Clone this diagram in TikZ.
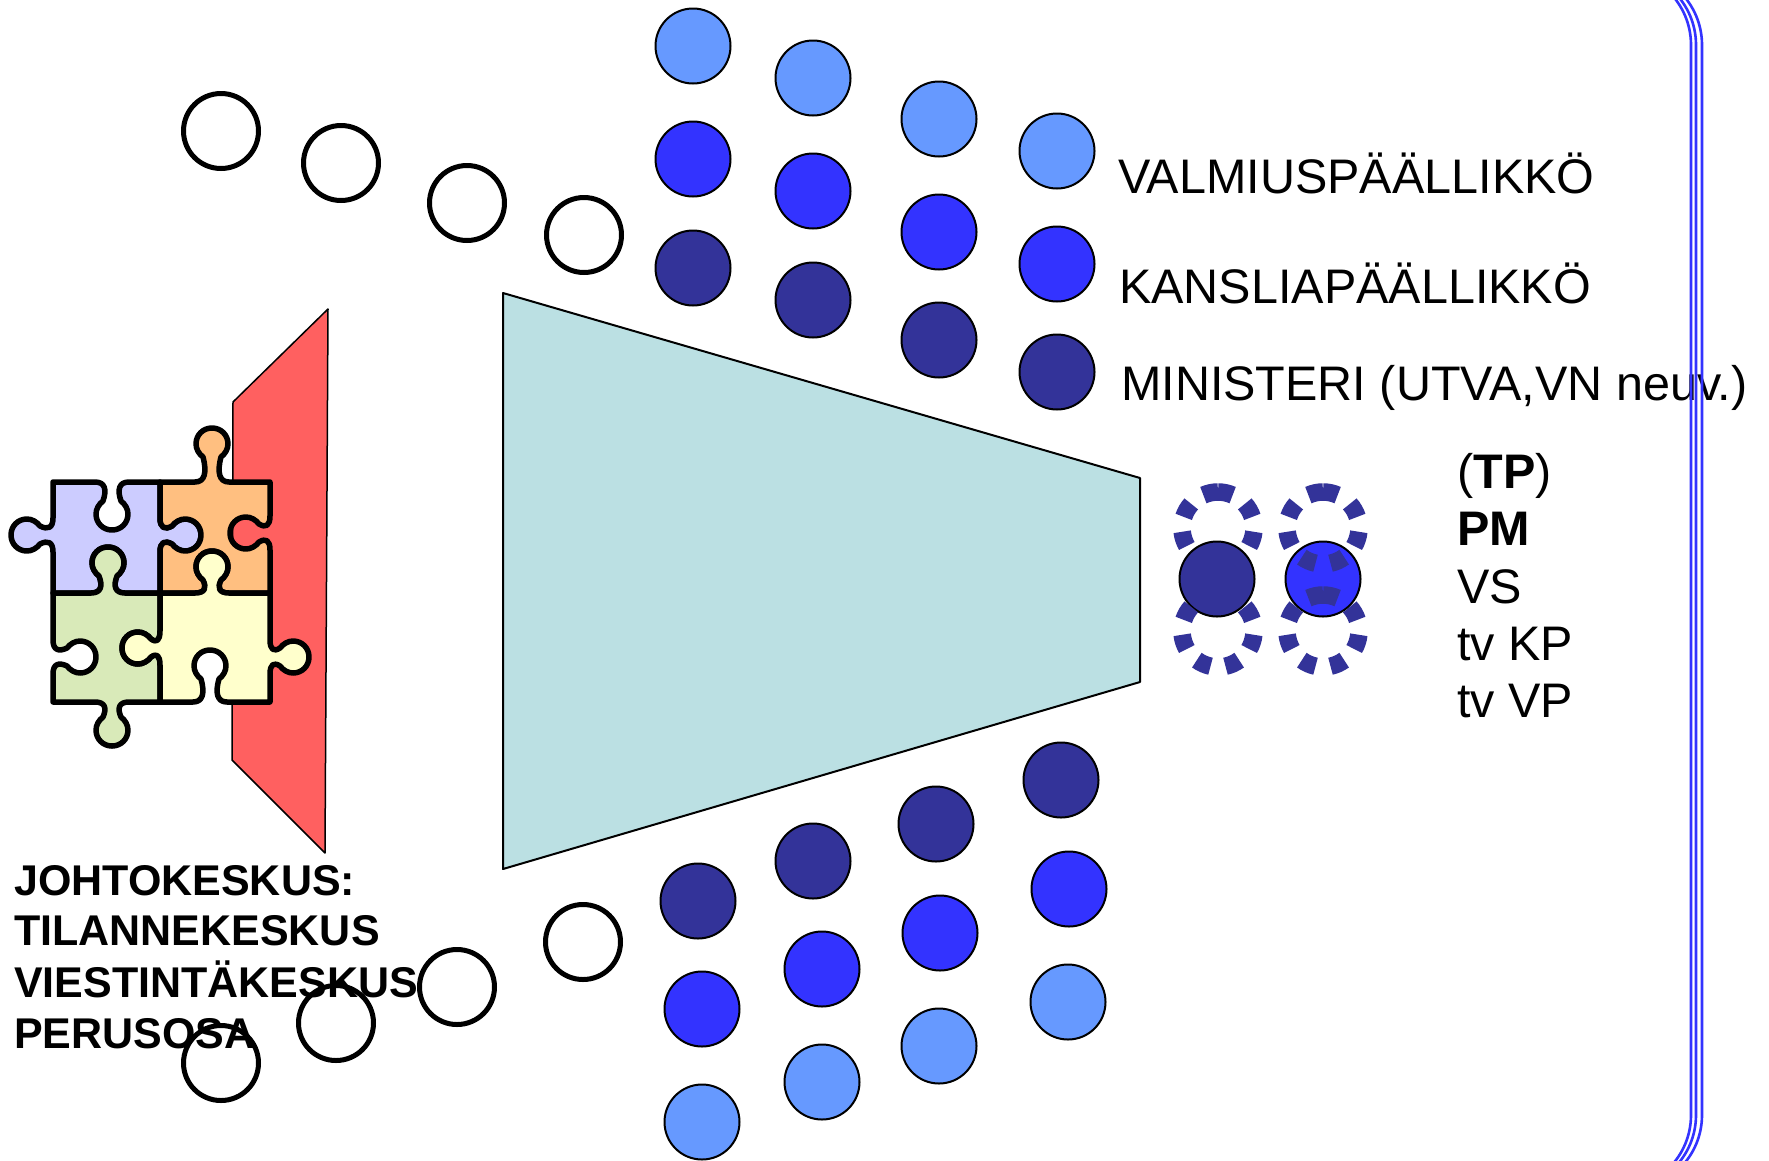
\documentclass[tikz,border=0pt]{standalone}
\usepackage{fontspec}
\setmainfont{Liberation Sans}
\definecolor{pzblue}{HTML}{CCCCFF}
\definecolor{pzorange}{HTML}{FFBF80}
\definecolor{pzgreen}{HTML}{D9EAB9}
\definecolor{pzyellow}{HTML}{FFFFCC}
\definecolor{wallred}{HTML}{FF6060}
\definecolor{funnel}{HTML}{BBE0E3}
\definecolor{cLight}{HTML}{6699FF}
\definecolor{cMid}{HTML}{3333FF}
\definecolor{cDark}{HTML}{333399}
% puzzle edge: xs ys dx dy nx ny p c
\newcommand\pzedge[8]{%
 -- ({#1+(#7-17)*(#3)},{#2+(#7-17)*(#4)})
 .. controls ({#1+(#7-7)*(#3)},{#2+(#7-7)*(#4)}) and ({#1+(#7-5)*(#3)+0.4*(#8-13)*(#5)},{#2+(#7-5)*(#4)+0.4*(#8-13)*(#6)})
 .. ({#1+(#7-9)*(#3)+(#8-13)*(#5)},{#2+(#7-9)*(#4)+(#8-13)*(#6)})
 .. controls ({#1+(#7-13)*(#3)+(#8-10)*(#5)},{#2+(#7-13)*(#4)+(#8-10)*(#6)}) and ({#1+(#7-16)*(#3)+(#8-5)*(#5)},{#2+(#7-16)*(#4)+(#8-5)*(#6)})
 .. ({#1+(#7-16)*(#3)+(#8)*(#5)},{#2+(#7-16)*(#4)+(#8)*(#6)})
 .. controls ({#1+(#7-16)*(#3)+(#8+9)*(#5)},{#2+(#7-16)*(#4)+(#8+9)*(#6)}) and ({#1+(#7-9)*(#3)+(#8+16)*(#5)},{#2+(#7-9)*(#4)+(#8+16)*(#6)})
 .. ({#1+(#7)*(#3)+(#8+16)*(#5)},{#2+(#7)*(#4)+(#8+16)*(#6)})
 .. controls ({#1+(#7+9)*(#3)+(#8+16)*(#5)},{#2+(#7+9)*(#4)+(#8+16)*(#6)}) and ({#1+(#7+16)*(#3)+(#8+9)*(#5)},{#2+(#7+16)*(#4)+(#8+9)*(#6)})
 .. ({#1+(#7+16)*(#3)+(#8)*(#5)},{#2+(#7+16)*(#4)+(#8)*(#6)})
 .. controls ({#1+(#7+16)*(#3)+(#8-5)*(#5)},{#2+(#7+16)*(#4)+(#8-5)*(#6)}) and ({#1+(#7+13)*(#3)+(#8-10)*(#5)},{#2+(#7+13)*(#4)+(#8-10)*(#6)})
 .. ({#1+(#7+9)*(#3)+(#8-13)*(#5)},{#2+(#7+9)*(#4)+(#8-13)*(#6)})
 .. controls ({#1+(#7+5)*(#3)+0.4*(#8-13)*(#5)},{#2+(#7+5)*(#4)+0.4*(#8-13)*(#6)}) and ({#1+(#7+7)*(#3)},{#2+(#7+7)*(#4)})
 .. ({#1+(#7+17)*(#3)},{#2+(#7+17)*(#4)})
}
\tikzset{
  piece/.style={draw=black, line width=5.5pt, line join=round},
  hollow/.style={circle, draw=black, line width=5pt, minimum size=75pt, inner sep=0pt},
  dot/.style={circle, draw=black, line width=2pt, minimum size=75pt, inner sep=0pt},
  light/.style={dot, fill=cLight},
  mid/.style={dot, fill=cMid},
  dark/.style={dot, fill=cDark},
  ringdash/.style={draw=cDark, line width=17.5pt},
  txt/.style={font=\fontsize{48.5}{58}\selectfont, inner sep=0pt, anchor=base west},
  btxt/.style={font=\fontsize{43}{51}\selectfont\bfseries, inner sep=0pt, anchor=base west},
  bracketline/.style={draw=cMid, line width=2.6pt, rounded corners=75pt}
}
\begin{document}
\begin{tikzpicture}[x=1pt, y=-1pt]
\useasboundingbox (0,0) rectangle (1769,1160);
\clip (0,0) rectangle (1769,1160);
\fill[white] (0,0) rectangle (1769,1160);

% red wall
\draw[fill=wallred, line width=1.5pt, line join=round] (328,309) -- (233,402) -- (232,760) -- (325,853) -- cycle;

% puzzle
\path[piece, fill=pzblue] (53,482) \pzedge{53}{482}{1}{0}{0}{1}{59}{32} -- (160,482) \pzedge{160}{482}{0}{1}{1}{0}{53}{25} -- (160,593) \pzedge{160}{593}{-1}{0}{0}{-1}{52}{30} -- (53,593) \pzedge{53}{593}{0}{-1}{-1}{0}{58}{26} -- cycle;
\path[piece, fill=pzorange] (160,482) \pzedge{160}{482}{1}{0}{0}{-1}{52}{38} -- (270,482) \pzedge{270}{482}{0}{1}{-1}{0}{51}{24} -- (270,593) \pzedge{270}{593}{-1}{0}{0}{-1}{58}{26} -- (160,593) \pzedge{160}{593}{0}{-1}{1}{0}{58}{25} -- cycle;
\path[piece, fill=pzgreen] (53,593) \pzedge{53}{593}{1}{0}{0}{-1}{55}{30} -- (160,593) \pzedge{160}{593}{0}{1}{-1}{0}{55}{22} -- (160,702) \pzedge{160}{702}{-1}{0}{0}{1}{48}{28} -- (53,702) \pzedge{53}{702}{0}{-1}{1}{0}{45}{27} -- cycle;
\path[piece, fill=pzyellow] (160,593) \pzedge{160}{593}{1}{0}{0}{-1}{52}{26} -- (270,593) \pzedge{270}{593}{0}{1}{1}{0}{64}{23} -- (270,702) \pzedge{270}{702}{-1}{0}{0}{-1}{60}{36} -- (160,702) \pzedge{160}{702}{0}{-1}{-1}{0}{54}{22} -- cycle;

% funnel
\draw[fill=funnel, line width=2pt, line join=round] (503,293) -- (1140,478) -- (1140,682) -- (503,869) -- cycle;

% hollow circles
\node[hollow] (h1) at (221,131) {};
\node[hollow] (h2) at (341,163) {};
\node[hollow] (h3) at (467,203) {};
\node[hollow] (h4) at (584,235) {};

% top blue circles
\node[light] (t11) at (693,46) {};
\node[mid]   (t12) at (693,159) {};
\node[dark]  (t13) at (693,268) {};
\node[light] (t21) at (813,78) {};
\node[mid]   (t22) at (813,191) {};
\node[dark]  (t23) at (813,300) {};
\node[light] (t31) at (939,119) {};
\node[mid]   (t32) at (939,232) {};
\node[dark]  (t33) at (939,340) {};
\node[light] (t41) at (1057,151) {};
\node[mid]   (t42) at (1057,264) {};
\node[dark]  (t43) at (1057,372) {};

% bottom blue circles
\node[dark]  (b11) at (698,901) {};
\node[mid]   (b12) at (702,1009) {};
\node[light] (b13) at (702,1122) {};
\node[dark]  (b21) at (813,861) {};
\node[mid]   (b22) at (822,969) {};
\node[light] (b23) at (822,1082) {};
\node[dark]  (b31) at (936,824) {};
\node[mid]   (b32) at (940,933) {};
\node[light] (b33) at (939,1046) {};
\node[dark]  (b41) at (1061,780) {};
\node[mid]   (b42) at (1069,889) {};
\node[light] (b43) at (1068,1002) {};

% labels top right
\node[txt] (valm) at (1118,193) {VALMIUSPÄÄLLIKKÖ};
\node[txt] (kans) at (1119,303) {KANSLIAPÄÄLLIKKÖ};
\node[txt] (mini) at (1121,400) {MINISTERI (UTVA,VN neuv.)};

% central pair with dashed rings
\node[dark] (pmA) at (1217,579) {};
\node[mid]  (pmB) at (1323,579) {};
\coordinate (rA1) at (1218,528);
\coordinate (rA2) at (1218,631);
\coordinate (rB1) at (1323,528);
\coordinate (rB2) at (1323,631);
\foreach \c in {rA1,rA2,rB1,rB2}{
  \foreach \a in {318,270,246,198,150,102,54,6}{
    \draw[ringdash] ([shift={(\a:36)}]\c) arc[start angle=\a, end angle=\a+24, radius=36];
  }
}

% right list
\node[txt] (tp) at (1457,488) {(\textbf{TP})};
\node[txt] (pm) at (1457,545) {\textbf{PM}};
\node[txt] (vs) at (1457,603) {VS};
\node[txt] (tvkp) at (1457,660) {tv KP};
\node[txt] (tvvp) at (1457,717) {tv VP};

% bottom-left text
\node[btxt] (jk) at (14,895) {JOHTOKESKUS:};
\node[btxt] (tk) at (14,945) {TILANNEKESKUS};
\node[btxt] (vk) at (14,997) {VIESTINTÄKESKUS};
\node[btxt] (po) at (14,1048) {PERUSOSA};

% bottom-left hollow circles
\node[hollow] (h5) at (583,942) {};
\node[hollow] (h6) at (457,987) {};
\node[hollow] (h7) at (336,1023) {};
\node[hollow] (h8) at (221,1063) {};

% bracket
\foreach \bx in {1691,1696,1702}{
  \draw[bracketline] (\bx-160,-30) -- (\bx,-30) -- (\bx,1190) -- (\bx-160,1190);
}
\end{tikzpicture}
\end{document}
